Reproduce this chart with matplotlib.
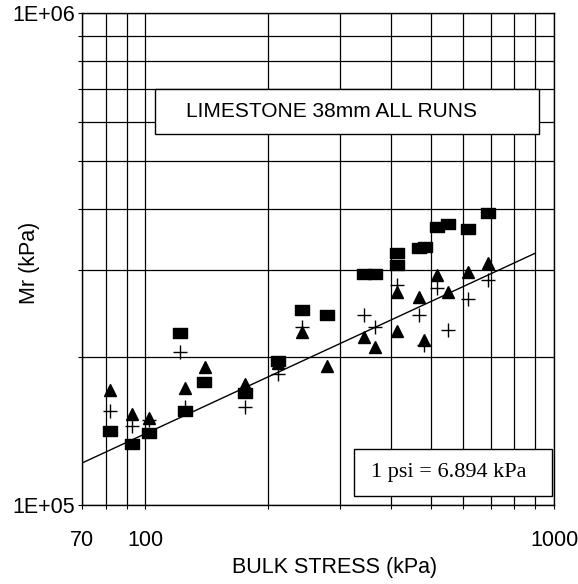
import matplotlib
matplotlib.use("Agg")
import matplotlib.pyplot as plt
from matplotlib.ticker import FixedLocator, FixedFormatter, NullFormatter
from matplotlib.patches import Rectangle
from matplotlib.path import Path

# ---- data (bulk stress kPa, resilient modulus kPa) ----
sq_x = [81.8, 92.7, 102, 121.5, 125, 139.4, 175, 211, 242, 278, 342, 364,
        413, 413, 468, 483, 517, 549, 616, 690]
sq_y = [141.6e3, 133.2e3, 140.3e3, 224e3, 155e3, 178e3, 169e3, 196e3, 249e3,
        243e3, 295e3, 295e3, 325e3, 307e3, 333e3, 334e3, 367e3, 373e3, 364e3, 392e3]

tri_x = [81.8, 92.7, 102, 125, 140, 175, 211, 242, 278, 342, 364, 413, 413,
         468, 481, 517, 549, 616, 690]
tri_y = [171e3, 153e3, 150e3, 173e3, 191e3, 176e3, 194e3, 225e3, 192e3, 220e3,
         209e3, 271e3, 226e3, 265e3, 216e3, 294e3, 271e3, 297e3, 311e3]

plus_x = [81.8, 92.7, 102, 121.5, 125, 175, 211, 242, 342, 364, 413, 468,
          481, 517, 549, 616, 690]
plus_y = [155e3, 145e3, 149e3, 205e3, 158e3, 158e3, 185e3, 230e3, 243e3, 230e3,
          280e3, 243e3, 211e3, 276e3, 227e3, 262e3, 286e3]

fit_x = [70, 900]
fit_y = [121.7e3, 325e3]

x_major = [70, 100, 1000]
x_major_labels = ["70", "100", "1000"]
x_minor = [80, 90, 200, 300, 400, 500, 600, 700, 800, 900]
y_major = [1e5, 1e6]
y_major_labels = ["1E+05", "1E+06"]
y_minor = [2e5, 3e5, 4e5, 5e5, 6e5, 7e5, 8e5, 9e5]

title_text = "LIMESTONE 38mm ALL RUNS"
note_text = "1 psi = 6.894 kPa"
x_label = "BULK STRESS (kPa)"
y_label = "Mr (kPa)"

plt.rcParams["font.family"] = ["Liberation Sans", "DejaVu Sans"]

fig = plt.figure(figsize=(5.78, 5.84), dpi=100)
ax = fig.add_axes([0.1419, 0.1353, 0.8166, 0.8424])
ax.set_xscale("log")
ax.set_yscale("log")
ax.set_xlim(70, 1000)
ax.set_ylim(1e5, 1e6)

ax.xaxis.set_major_locator(FixedLocator(x_major))
ax.xaxis.set_major_formatter(FixedFormatter(x_major_labels))
ax.xaxis.set_minor_locator(FixedLocator(x_minor))
ax.xaxis.set_minor_formatter(NullFormatter())
ax.yaxis.set_major_locator(FixedLocator(y_major))
ax.yaxis.set_major_formatter(FixedFormatter(y_major_labels))
ax.yaxis.set_minor_locator(FixedLocator(y_minor))
ax.yaxis.set_minor_formatter(NullFormatter())

ax.set_axisbelow(True)
ax.grid(True, which="both", color="black", linewidth=0.9)
for s in ax.spines.values():
    s.set_color("black")
    s.set_linewidth(1.0)

ax.tick_params(axis="x", which="both", direction="out", length=3, width=0.8,
               pad=15, labelsize=15.5)
ax.tick_params(axis="y", which="both", direction="out", length=3, width=0.8,
               pad=2, labelsize=15.5)

rect_marker = Path([(-1, -0.7), (1, -0.7), (1, 0.7), (-1, 0.7), (-1, -0.7)],
                   [Path.MOVETO, Path.LINETO, Path.LINETO, Path.LINETO, Path.CLOSEPOLY])

ax.plot(fit_x, fit_y, color="black", linewidth=1.0, zorder=3)
ax.plot(sq_x, sq_y, linestyle="none", marker=rect_marker, markersize=10,
        color="black", zorder=4)
ax.plot(tri_x, tri_y, linestyle="none", marker="^", markersize=8.5,
        color="black", zorder=5)
ax.plot(plus_x, plus_y, linestyle="none", marker="+", markersize=10,
        markeredgewidth=1.0, color="black", zorder=6)

# text boxes
ax.add_patch(Rectangle((0.155, 0.754), 0.813, 0.092, transform=ax.transAxes,
                       facecolor="white", edgecolor="black", linewidth=1.0, zorder=2))
ax.text(0.529, 0.800, title_text, transform=ax.transAxes, ha="center",
        va="center", fontsize=15, zorder=3)

ax.add_patch(Rectangle((0.576, 0.018), 0.42, 0.096, transform=ax.transAxes,
                       facecolor="white", edgecolor="black", linewidth=1.0, zorder=2))
ax.text(0.778, 0.067, note_text, transform=ax.transAxes, ha="center",
        va="center", fontsize=16, family=["Liberation Serif", "DejaVu Serif"], zorder=3)

ax.set_xlabel(x_label, fontsize=15.5)
ax.xaxis.set_label_coords(0.536, -0.105)
ax.set_ylabel(y_label, fontsize=15.5)
ax.yaxis.set_label_coords(-0.09, 0.492)

fig.savefig("out.png", dpi=100)
